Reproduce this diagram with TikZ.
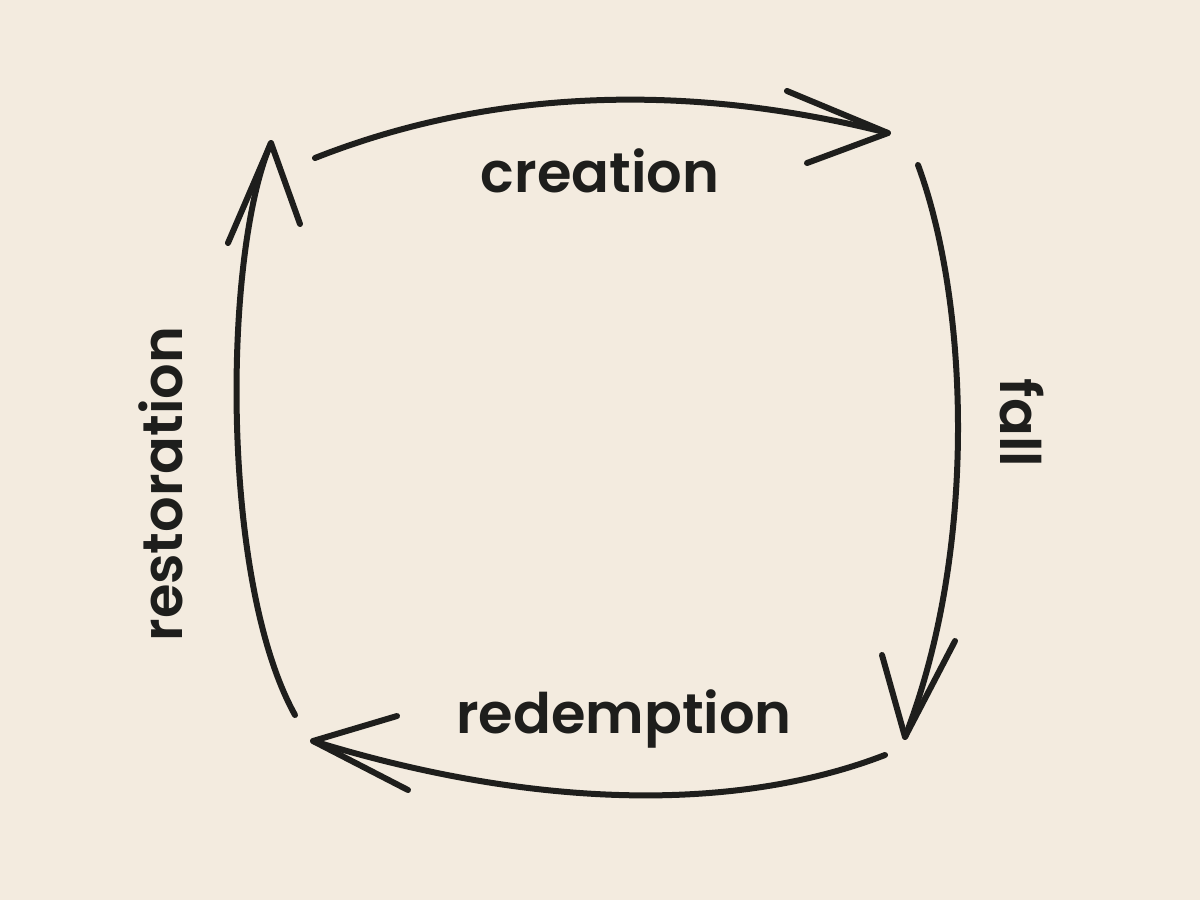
\documentclass[tikz,border=0pt]{standalone}
\usepackage{fontspec}
\setmainfont{Poppins}[BoldFont={Poppins SemiBold}]
\usepackage{tikz}
\definecolor{cyclebg}{HTML}{F3EBDF}
\definecolor{cycleink}{HTML}{1E1E1C}

\begin{document}
\begin{tikzpicture}[x=0.02cm,y=-0.02cm,line width=0.12cm,line cap=round,line join=round,
  flow/.style={draw=cycleink},
  stage/.style={font=\fontsize{31.8}{38}\selectfont\bfseries,text=cycleink,inner sep=0pt,anchor=base}]
\fill[cyclebg] (0,0) rectangle (1200,900);
\useasboundingbox (0,0) rectangle (1200,900);
% ends and tips of the four arcs
\coordinate (creationstart) at (315,158);
\coordinate (creationtip) at (888,133);
\coordinate (fallstart) at (918,165);
\coordinate (falltip) at (905,737);
\coordinate (redemptionstart) at (885,755);
\coordinate (redemptiontip) at (313,741);
\coordinate (restorationstart) at (295,715);
\coordinate (restorationtip) at (271,143);
% barb ends
\coordinate (creationbarbA) at (787,91);
\coordinate (creationbarbB) at (807,163);
\coordinate (fallbarbA) at (955,641);
\coordinate (fallbarbB) at (882,655);
\coordinate (redemptionbarbA) at (408,790);
\coordinate (redemptionbarbB) at (397,716);
\coordinate (restorationbarbA) at (228,243);
\coordinate (restorationbarbB) at (300,224);
\draw[flow] (creationstart) .. controls (500,85) and (699,85) .. (creationtip);
\draw[flow] (fallstart) .. controls (968,300) and (979,546) .. (falltip);
\draw[flow] (redemptionstart) .. controls (740,811) and (540,811) .. (redemptiontip);
\draw[flow] (restorationstart) .. controls (220,580) and (223,254) .. (restorationtip);
\foreach \s in {creation,fall,redemption,restoration}
  \draw[flow] (\s barbA) -- (\s tip) -- (\s barbB);
\node[stage] (creation) at (600,192) {creation};
\node[stage,rotate=-90] (fall) at (1000,423) {fall};
\node[stage] (redemption) at (624,733) {redemption};
\node[stage,rotate=90] (restoration) at (182,484) {restoration};
\end{tikzpicture}
\end{document}
